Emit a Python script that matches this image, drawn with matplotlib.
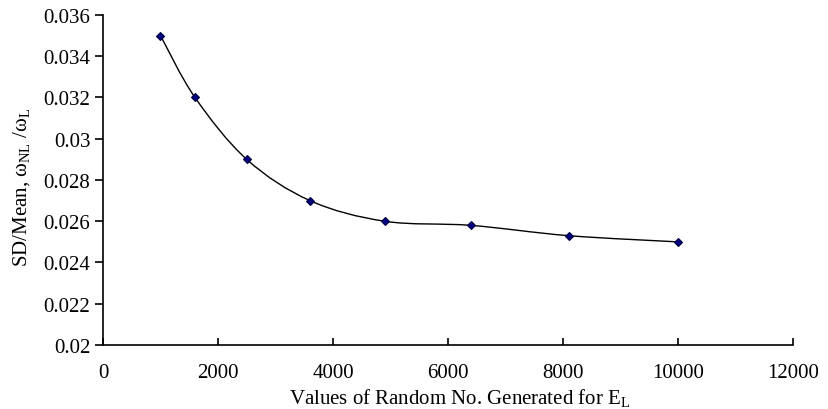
import numpy as np
import matplotlib.pyplot as plt
from matplotlib.path import Path
from matplotlib.patches import PathPatch

plt.rcParams['font.family'] = ['Liberation Serif', 'DejaVu Serif']
plt.rcParams['mathtext.fontset'] = 'custom'
plt.rcParams['mathtext.rm'] = 'Liberation Serif'
plt.rcParams['mathtext.it'] = 'Liberation Serif:italic'

# Data
n_random = [1000, 1600, 2500, 3600, 4900, 6400, 8100, 10000]
sd_mean = [0.035, 0.032, 0.029, 0.027, 0.026, 0.0258, 0.0253, 0.025]
x_ticks = [0, 2000, 4000, 6000, 8000, 10000, 12000]
y_ticks = [0.02, 0.022, 0.024, 0.026, 0.028, 0.03, 0.032, 0.034, 0.036]
y_labels = ['0.02', '0.022', '0.024', '0.026', '0.028', '0.03', '0.032', '0.034', '0.036']

# Smoothed line like a spreadsheet chart: cubic Bezier through the points
pts = np.column_stack([n_random, sd_mean])
verts = [pts[0]]
codes = [Path.MOVETO]
for i in range(len(pts) - 1):
    p0 = pts[i - 1] if i > 0 else pts[i]
    p3 = pts[i + 2] if i + 2 < len(pts) else pts[i + 1]
    c1 = pts[i] + (pts[i + 1] - p0) / 6
    c2 = pts[i + 1] - (p3 - pts[i]) / 6
    verts += [c1, c2, pts[i + 1]]
    codes += [Path.CURVE4] * 3

fig = plt.figure(figsize=(8.29, 4.10), dpi=100)
ax = fig.add_axes([103 / 829, 1 - 346 / 410, 690 / 829, 330 / 410])

ax.add_patch(PathPatch(Path(verts, codes), facecolor='none', edgecolor='black', lw=1.0))
ax.plot(n_random, sd_mean, linestyle='none', marker='D', markersize=4.5,
        markerfacecolor='#000080', markeredgecolor='#000040', markeredgewidth=0.8)

ax.set_xlim(0, 12000)
ax.set_ylim(0.02, 0.036)
ax.set_xticks(x_ticks)
ax.set_xticklabels([str(v) for v in x_ticks])
ax.set_yticks(y_ticks)
ax.set_yticklabels(y_labels)

for s in ['top', 'right']:
    ax.spines[s].set_visible(False)
for s in ['left', 'bottom']:
    ax.spines[s].set_linewidth(1.2)

ax.tick_params(axis='y', direction='out', length=6, width=1.2, labelsize=15, pad=3)
ax.tick_params(axis='x', direction='in', length=5, width=1.2, labelsize=15, pad=13)

ax.set_xlabel('Values of Random No. Generated for E$_\\mathrm{L}$', fontsize=15, labelpad=3)
ax.set_ylabel('SD/Mean, ω$_\\mathrm{NL}$ /ω$_\\mathrm{L}$', fontsize=15, labelpad=8)
ax.xaxis.label.set_x(0.517)
ax.yaxis.label.set_y(0.48)

fig.savefig('out.png', dpi=100)
